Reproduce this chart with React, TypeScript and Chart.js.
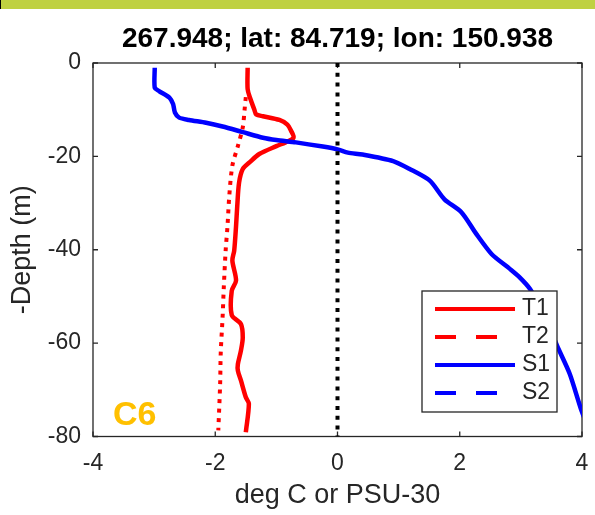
import React, { useEffect, useRef } from 'react';
import { Chart, registerables } from 'chart.js';

Chart.register(...registerables);

const TITLE = '267.948; lat: 84.719; lon: 150.938';
const X_LABEL = 'deg C or PSU-30';
const Y_LABEL = '-Depth (m)';
const STATION = 'C6';
const X_TICKS = [-4, -2, 0, 2, 4];
const Y_TICKS = [-80, -60, -40, -20, 0];
const LEGEND_LABELS = ['T1', 'T2', 'S1', 'S2'];

// T1: temperature (solid red)
const T1_X = [-1.47, -1.47, -1.43, -1.36, -1.33, -1.22, -0.95, -0.82, -0.76, -0.72, -0.85, -1.0, -1.28, -1.44, -1.55, -1.61, -1.64, -1.66, -1.69, -1.72, -1.66, -1.73, -1.73, -1.58, -1.55, -1.58, -1.63, -1.63, -1.58, -1.5, -1.45, -1.5];
const T1_Y = [-1, -5.6, -7.5, -10, -11, -11.4, -12.2, -13.2, -14.5, -16, -17, -17.8, -19.5, -21.3, -22.7, -25.6, -30.6, -35, -40.2, -42.3, -46.6, -48.8, -54, -55.9, -58.8, -61.6, -64.5, -65.9, -68, -71.6, -73, -79.1];

// T2: freezing temperature (dotted red)
const T2_X = [-1.5, -1.52, -1.55, -1.63, -1.72, -1.77, -1.8, -1.83, -1.86, -1.88, -1.91, -1.92, -1.95];
const T2_Y = [-7.3, -10, -13.8, -17.8, -22, -28.4, -35, -40.2, -48, -54.5, -62, -68.7, -78.7];

// S1: salinity - 30 (solid blue)
const S1_X = [-2.99, -2.99, -2.92, -2.75, -2.69, -2.66, -2.59, -2.43, -2.15, -1.88, -1.55, -1.22, -1.0, -0.68, -0.24, 0.0, 0.17, 0.41, 0.91, 1.18, 1.51, 1.75, 2.03, 2.27, 2.52, 2.82, 2.98, 3.15, 3.3, 3.45, 3.59, 3.8, 3.99, 4.1];
const S1_Y = [-1, -5.3, -6, -7.4, -8.8, -10.6, -11.7, -12.2, -12.8, -13.6, -14.8, -16, -16.5, -17, -17.9, -18.5, -19.2, -19.6, -21, -22.7, -25.2, -29.2, -32, -36.6, -40.9, -44.1, -45.9, -48.4, -52, -56, -60.5, -66.6, -74.4, -78];

// S2: no data shown
const S2_X: number[] = [];
const S2_Y: number[] = [];

// zero reference line
const ZERO_X = [0, 0];
const ZERO_Y = [0, -80];

const FONT = '"Liberation Sans", Arial, Helvetica, sans-serif';
const AXIS_COLOR = '#262626';

const pts = (xs: number[], ys: number[]) => xs.map((x, i) => ({ x, y: ys[i] }));

const decorPlugin = {
  id: 'decor',
  beforeDraw(chart: any) {
    const { ctx, chartArea: a, width, height } = chart;
    ctx.save();
    ctx.fillStyle = '#ffffff';
    ctx.fillRect(0, 0, width, height);
    ctx.fillStyle = '#BFD141';
    ctx.fillRect(0, 0, width, 9);
    ctx.fillStyle = '#000000';
    ctx.fillRect(0, 0, 1, 9);
    ctx.fillStyle = '#000000';
    ctx.font = `bold 28px ${FONT}`;
    ctx.textAlign = 'center';
    ctx.textBaseline = 'alphabetic';
    ctx.fillText(TITLE, (a.left + a.right) / 2, a.top - 16);
    ctx.restore();
  },
  beforeDatasetsDraw(chart: any) {
    const { ctx, chartArea: a, scales } = chart;
    ctx.save();
    ctx.strokeStyle = AXIS_COLOR;
    ctx.lineWidth = 1.3;
    ctx.strokeRect(a.left, a.top, a.right - a.left, a.bottom - a.top);
    const tl = 5;
    ctx.beginPath();
    X_TICKS.forEach((v) => {
      const px = scales.x.getPixelForValue(v);
      ctx.moveTo(px, a.bottom);
      ctx.lineTo(px, a.bottom - tl);
      ctx.moveTo(px, a.top);
      ctx.lineTo(px, a.top + tl);
    });
    Y_TICKS.forEach((v) => {
      const py = scales.y.getPixelForValue(v);
      ctx.moveTo(a.left, py);
      ctx.lineTo(a.left + tl, py);
      ctx.moveTo(a.right, py);
      ctx.lineTo(a.right - tl, py);
    });
    ctx.stroke();
    ctx.restore();
  },
  afterDatasetsDraw(chart: any) {
    const { ctx, chartArea: a } = chart;
    ctx.save();
    // station label
    ctx.fillStyle = '#FFC000';
    ctx.font = `bold 34px ${FONT}`;
    ctx.textAlign = 'left';
    ctx.textBaseline = 'alphabetic';
    ctx.fillText(STATION, a.left + 20, a.bottom - 11.5);

    // legend box
    const bw = 135;
    const bh = 121;
    const bx = a.right - 25 - bw;
    const by = a.bottom - 24.5 - bh;
    ctx.fillStyle = '#ffffff';
    ctx.fillRect(bx, by, bw, bh);
    ctx.strokeStyle = AXIS_COLOR;
    ctx.lineWidth = 1.3;
    ctx.strokeRect(bx, by, bw, bh);
    const items = chart.data.datasets.filter((d: any) => LEGEND_LABELS.includes(d.label));
    items.sort((p: any, q: any) => LEGEND_LABELS.indexOf(p.label) - LEGEND_LABELS.indexOf(q.label));
    items.forEach((d: any, i: number) => {
      const y = by + 18 + 28 * i;
      ctx.beginPath();
      ctx.setLineDash(d.legendDash || []);
      ctx.lineCap = 'butt';
      ctx.strokeStyle = d.borderColor;
      ctx.lineWidth = 4;
      ctx.moveTo(bx + 13, y);
      ctx.lineTo(bx + 93, y);
      ctx.stroke();
      ctx.setLineDash([]);
      ctx.fillStyle = AXIS_COLOR;
      ctx.font = `23px ${FONT}`;
      ctx.textAlign = 'left';
      ctx.textBaseline = 'middle';
      ctx.fillText(d.label, bx + 100, y);
    });
    ctx.restore();
  },
};

export default function App() {
  const ref = useRef<HTMLCanvasElement | null>(null);

  useEffect(() => {
    if (!ref.current) return;
    const lineBase = { pointRadius: 0, pointHoverRadius: 0, tension: 0, fill: false, borderCapStyle: 'butt', borderJoinStyle: 'round' };
    const chart = new Chart(ref.current, {
      type: 'line',
      data: {
        datasets: [
          { ...lineBase, label: 'T1', data: pts(T1_X, T1_Y), borderColor: '#FF0000', borderWidth: 4.5, tension: 0.3, order: 5, legendDash: [] } as any,
          { ...lineBase, label: 'T2', data: pts(T2_X, T2_Y), borderColor: '#FF0000', borderWidth: 4, borderDash: [4, 5.5], tension: 0.3, order: 4, legendDash: [21, 20] } as any,
          { ...lineBase, label: 'S1', data: pts(S1_X, S1_Y), borderColor: '#0000FF', borderWidth: 4.5, tension: 0.25, order: 3, clip: 0, legendDash: [] } as any,
          { ...lineBase, label: 'S2', data: pts(S2_X, S2_Y), borderColor: '#0000FF', borderWidth: 4, borderDash: [21, 20], order: 2, legendDash: [21, 20] } as any,
          { ...lineBase, label: 'zero', data: pts(ZERO_X, ZERO_Y), borderColor: '#000000', borderWidth: 4, borderDash: [4, 5.8], order: 1 } as any,
        ],
      },
      options: {
        responsive: false,
        animation: false,
        events: [],
        layout: { padding: { left: 0, right: 13, top: 63, bottom: 0 } },
        plugins: {
          legend: { display: false },
          tooltip: { enabled: false },
          title: { display: false },
        },
        scales: {
          x: {
            type: 'linear',
            min: -4,
            max: 4,
            afterBuildTicks: (s: any) => {
              s.ticks = X_TICKS.map((v) => ({ value: v }));
            },
            afterFit: (s: any) => {
              s.height = 78.5;
              s.paddingLeft = 0;
              s.paddingRight = 0;
            },
            grid: { display: false, drawTicks: false },
            border: { display: false },
            ticks: { font: { family: FONT, size: 23 }, color: AXIS_COLOR, padding: 13, maxRotation: 0, autoSkip: false },
            title: { display: true, text: X_LABEL, font: { family: FONT, size: 27 }, color: AXIS_COLOR, padding: { top: 0, bottom: 3 } },
          },
          y: {
            type: 'linear',
            min: -80,
            max: 0,
            afterBuildTicks: (s: any) => {
              s.ticks = Y_TICKS.map((v) => ({ value: v }));
            },
            afterFit: (s: any) => {
              s.width = 93;
              s.paddingTop = 0;
              s.paddingBottom = 0;
            },
            grid: { display: false, drawTicks: false },
            border: { display: false },
            ticks: { font: { family: FONT, size: 23 }, color: AXIS_COLOR, padding: 12, autoSkip: false },
            title: { display: true, text: Y_LABEL, font: { family: FONT, size: 27 }, color: AXIS_COLOR, padding: { top: 6, bottom: 0 } },
          },
        },
      } as any,
      plugins: [decorPlugin as any],
    });
    return () => chart.destroy();
  }, []);

  return (
    <div style={{ position: 'absolute', left: 0, top: 0, width: 595, height: 515 }}>
      <canvas ref={ref} width={595} height={515} style={{ width: 595, height: 515, display: 'block' }} />
    </div>
  );
}
